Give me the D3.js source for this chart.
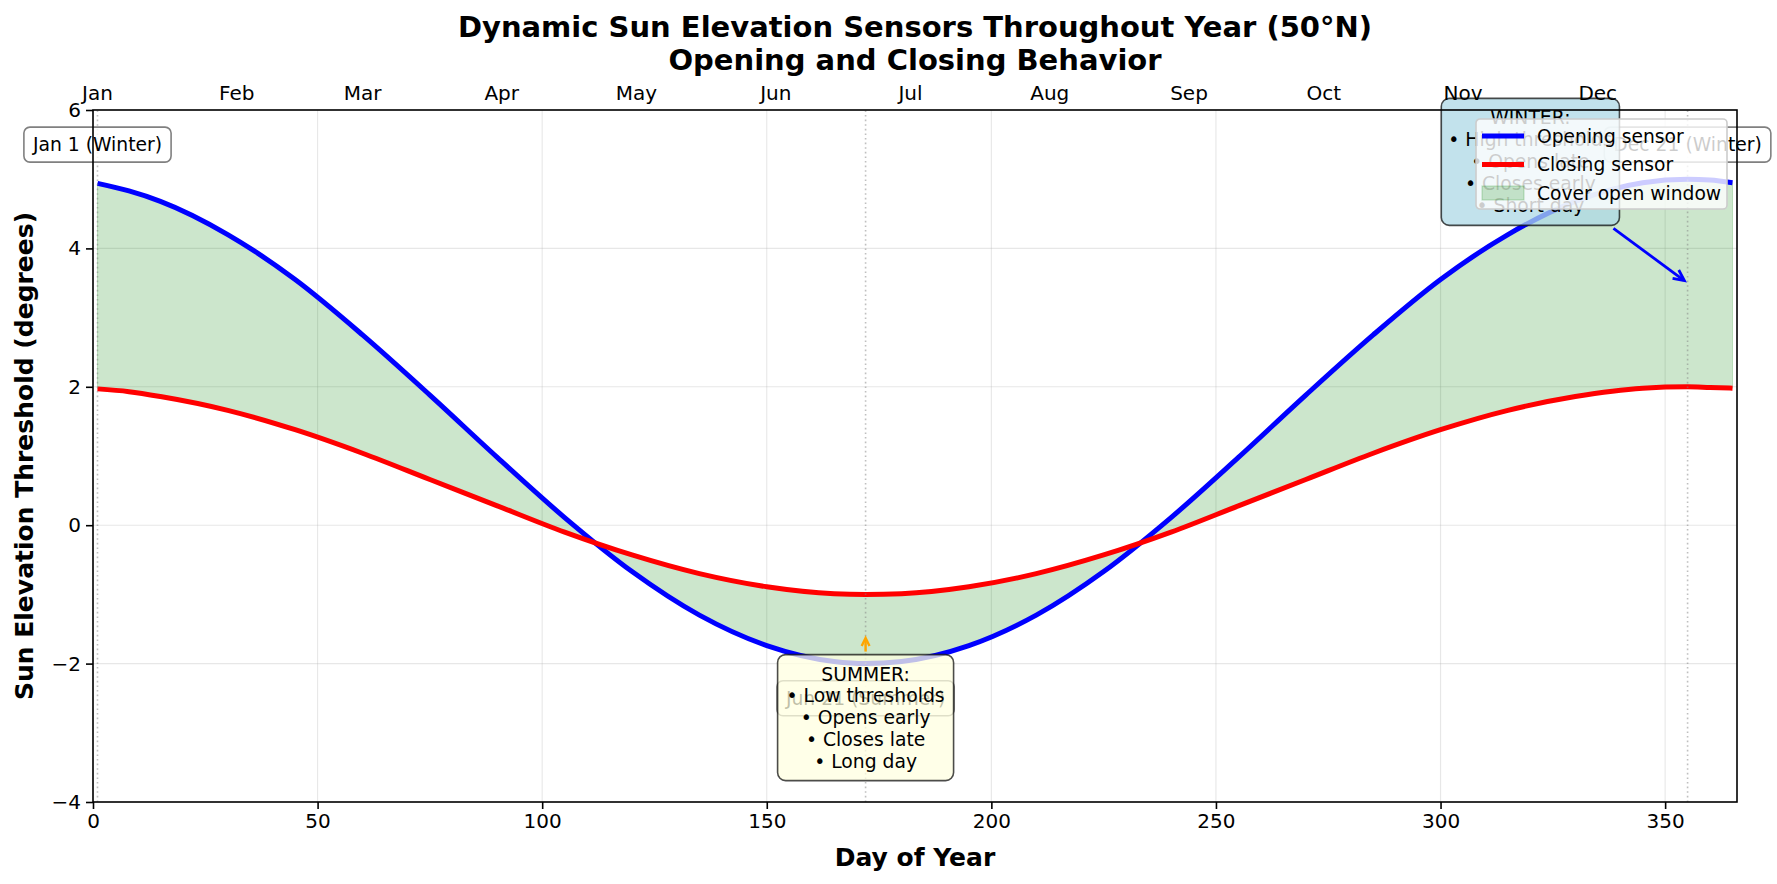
<!DOCTYPE html>
<html>
<head>
<meta charset="utf-8">
<script src="https://cdn.jsdelivr.net/npm/d3@7"></script>
<style>
  body { margin: 0; background: #fff; }
  svg { display: block; font-family: "DejaVu Sans", sans-serif; }
</style>
</head>
<body>
<div id="chartDiv"></div>
<script>
// values
const days = [1, 8, 15, 30, 45, 60, 75, 90, 105, 120, 135, 150, 165, 172, 180, 195, 210, 225, 240, 255, 270, 285, 300, 315, 330, 345, 355, 360, 365];
const openingSensor = [4.94, 4.83, 4.68, 4.20, 3.55, 2.75, 1.88, 0.98, 0.11, -0.67, -1.30, -1.74, -1.97, -2.00, -1.97, -1.74, -1.30, -0.67, 0.11, 0.98, 1.88, 2.75, 3.55, 4.20, 4.68, 4.95, 5.00, 4.99, 4.95];
const closingSensor = [1.97, 1.93, 1.86, 1.66, 1.38, 1.04, 0.66, 0.28, -0.10, -0.43, -0.70, -0.89, -0.99, -1.00, -0.99, -0.89, -0.70, -0.43, -0.10, 0.28, 0.66, 1.04, 1.38, 1.66, 1.86, 1.98, 2.00, 1.99, 1.98];

const monthNames = ['Jan', 'Feb', 'Mar', 'Apr', 'May', 'Jun', 'Jul', 'Aug', 'Sep', 'Oct', 'Nov', 'Dec'];
const monthStartDays = [1, 32, 60, 91, 121, 152, 182, 213, 244, 274, 305, 335];

const xTicks = [0, 50, 100, 150, 200, 250, 300, 350];
const yTicks = [-4, -2, 0, 2, 4, 6];

const keyDays = [1, 172, 355];
const keyLabels = ['Jan 1 (Winter)', 'Jun 21 (Summer)', 'Dec 21 (Winter)'];
const keyLabelY = [5.5, -2.5, 5.5];

const summerLines = ['SUMMER:', '• Low thresholds', '• Opens early', '• Closes late', '• Long day'];
const winterLines = ['WINTER:', '• High thresholds', '• Opens late', '• Closes early', '• Short day'];

const legendNames = ['Opening sensor', 'Closing sensor', 'Cover open window'];

const width = 1777, height = 884;
const margin = { top: 110, right: 40, bottom: 82, left: 93 };

const series = days.map((d, i) => ({ day: d, open: openingSensor[i], close: closingSensor[i] }));

const svg = d3.select('#chartDiv').append('svg')
	.attr('width', width)
	.attr('height', height);

const x = d3.scaleLinear().domain([0, 366]).range([margin.left, width - margin.right]);
const y = d3.scaleLinear().domain([-4, 6]).range([height - margin.bottom, margin.top]);

// grid
const grid = svg.append('g').attr('class', 'grid');
grid.selectAll('.vgrid').data(xTicks).join('line')
	.attr('x1', d => x(d)).attr('x2', d => x(d))
	.attr('y1', y(-4)).attr('y2', y(6))
	.attr('stroke', '#b0b0b0').attr('stroke-opacity', 0.3).attr('stroke-width', 1.1);
grid.selectAll('.hgrid').data(yTicks).join('line')
	.attr('x1', x(0)).attr('x2', x(366))
	.attr('y1', d => y(d)).attr('y2', d => y(d))
	.attr('stroke', '#b0b0b0').attr('stroke-opacity', 0.3).attr('stroke-width', 1.1);

// filled band between the sensors
const areaFn = d3.area()
	.x(d => x(d.day))
	.y0(d => y(d.close))
	.y1(d => y(d.open))
	.curve(d3.curveMonotoneX);

svg.append('path')
	.datum(series)
	.attr('d', areaFn)
	.attr('fill', 'green').attr('fill-opacity', 0.2)
	.attr('stroke', 'green').attr('stroke-opacity', 0.2).attr('stroke-width', 1);

const openLine = d3.line().x(d => x(d.day)).y(d => y(d.open)).curve(d3.curveMonotoneX);
const closeLine = d3.line().x(d => x(d.day)).y(d => y(d.close)).curve(d3.curveMonotoneX);

svg.append('path').datum(series).attr('d', openLine)
	.attr('fill', 'none').attr('stroke', 'blue').attr('stroke-width', 5);
svg.append('path').datum(series).attr('d', closeLine)
	.attr('fill', 'none').attr('stroke', 'red').attr('stroke-width', 5);

// key day markers
svg.selectAll('.keyLine').data(keyDays).join('line')
	.attr('x1', d => x(d)).attr('x2', d => x(d))
	.attr('y1', y(-4)).attr('y2', y(6))
	.attr('stroke', 'gray').attr('stroke-opacity', 0.5)
	.attr('stroke-width', 1.6).attr('stroke-dasharray', '1.6,3');

// boxed text helper
function boxedText(parent, lines, cx, cy, opts){
	let g = parent.append('g');
	let rect = g.append('rect');
	let lineH = opts.lineH;
	let txt = g.append('text')
		.attr('font-size', opts.size)
		.attr('text-anchor', 'middle')
		.attr('fill', '#000');
	lines.forEach((l, i) => {
		txt.append('tspan')
			.attr('x', cx)
			.attr('y', cy + (i - (lines.length - 1) / 2) * lineH)
			.attr('dy', '0.35em')
			.text(l);
	});
	let maxW = d3.max(txt.selectAll('tspan').nodes(), n => n.getComputedTextLength());
	let h = lines.length * lineH;
	let box = {
		x: cx - maxW / 2 - opts.padX,
		y: cy - h / 2 - opts.padY,
		w: maxW + 2 * opts.padX,
		h: h + 2 * opts.padY
	};
	rect.attr('x', box.x).attr('y', box.y)
		.attr('width', box.w).attr('height', box.h)
		.attr('rx', opts.rx).attr('ry', opts.rx)
		.attr('fill', opts.fill).attr('fill-opacity', opts.fillOpacity)
		.attr('stroke', opts.stroke).attr('stroke-width', opts.strokeWidth)
		.attr('stroke-opacity', opts.strokeOpacity || 1);
	return box;
}

function drawArrow(parent, x1, y1, x2, y2, color, lw, head, shrink){
	let ang = Math.atan2(y2 - y1, x2 - x1);
	x2 -= Math.cos(ang) * shrink;
	y2 -= Math.sin(ang) * shrink;
	parent.append('line')
		.attr('x1', x1).attr('y1', y1)
		.attr('x2', x2 - Math.cos(ang) * 1).attr('y2', y2 - Math.sin(ang) * 1)
		.attr('stroke', color).attr('stroke-width', lw);
	let a1 = ang + Math.PI - 0.45, a2 = ang + Math.PI + 0.45;
	parent.append('path')
		.attr('d', `M${x2 + Math.cos(a1) * head},${y2 + Math.sin(a1) * head}L${x2},${y2}L${x2 + Math.cos(a2) * head},${y2 + Math.sin(a2) * head}`)
		.attr('fill', 'none').attr('stroke', color).attr('stroke-width', lw)
		.attr('stroke-linejoin', 'miter');
}

// key day labels
keyDays.forEach((d, i) => {
	boxedText(svg, [keyLabels[i]], x(d), y(keyLabelY[i]), {
		size: 18.75, lineH: 20, padX: 9, padY: 7.5, rx: 6,
		fill: 'white', fillOpacity: 0.8, stroke: 'gray', strokeWidth: 1.6
	});
});

// summer annotation
let summerBox = boxedText(svg, summerLines, x(172), y(-2.78), {
	size: 18.75, lineH: 21.8, padX: 9, padY: 8.5, rx: 8,
	fill: '#ffffe0', fillOpacity: 0.75, stroke: '#000', strokeWidth: 1.6, strokeOpacity: 0.7
});
drawArrow(svg, x(172), summerBox.y - 3, x(172), y(-1.6), 'orange', 2.4, 9, 2);

// winter annotation
let winterBox = boxedText(svg, winterLines, x(320), y(5.25), {
	size: 18.75, lineH: 22, padX: 7, padY: 8.5, rx: 8,
	fill: 'lightblue', fillOpacity: 0.75, stroke: '#000', strokeWidth: 1.6, strokeOpacity: 0.7
});
drawArrow(svg, winterBox.x + winterBox.w - 6, winterBox.y + winterBox.h + 3, x(355), y(3.5), 'blue', 2.8, 12, 4);

// axes
const xAxis = svg.append('g')
	.attr('transform', `translate(0,${y(-4)})`)
	.call(d3.axisBottom(x).tickValues(xTicks).tickSize(7).tickPadding(5));
const yAxis = svg.append('g')
	.attr('transform', `translate(${x(0)},0)`)
	.call(d3.axisLeft(y).tickValues(yTicks).tickSize(7).tickPadding(5));
[xAxis, yAxis].forEach(a => {
	a.select('.domain').remove();
	a.selectAll('.tick line').attr('stroke', '#000').attr('stroke-width', 1.6);
	a.selectAll('.tick text').attr('font-size', 20).attr('fill', '#000')
		.attr('font-family', '"DejaVu Sans", sans-serif');
});

// top month labels
svg.append('g').selectAll('text').data(monthStartDays).join('text')
	.attr('x', d => x(d))
	.attr('y', 93)
	.attr('dy', '0.35em')
	.attr('text-anchor', 'middle')
	.attr('font-size', 20)
	.text((d, i) => monthNames[i]);

// spines
svg.append('rect')
	.attr('x', x(0)).attr('y', y(6))
	.attr('width', x(366) - x(0)).attr('height', y(-4) - y(6))
	.attr('fill', 'none').attr('stroke', '#000').attr('stroke-width', 1.6);

// legend
const legend = svg.append('g').attr('transform', 'translate(1476,119)');
legend.append('rect')
	.attr('width', 251).attr('height', 90).attr('rx', 4)
	.attr('fill', 'white').attr('fill-opacity', 0.8)
	.attr('stroke', '#cccccc').attr('stroke-width', 1.6);
legendNames.forEach((name, i) => {
	let ly = 17 + i * 28.5;
	if(i < 2){
		legend.append('line')
			.attr('x1', 6).attr('x2', 48).attr('y1', ly).attr('y2', ly)
			.attr('stroke', i == 0 ? 'blue' : 'red').attr('stroke-width', 5);
	} else {
		legend.append('rect')
			.attr('x', 6).attr('y', ly - 7).attr('width', 42).attr('height', 14)
			.attr('fill', 'green').attr('fill-opacity', 0.2)
			.attr('stroke', 'green').attr('stroke-opacity', 0.2).attr('stroke-width', 1.2);
	}
	legend.append('text')
		.attr('x', 61).attr('y', ly).attr('dy', '0.35em')
		.attr('font-size', 18.7)
		.text(name);
});

// titles
svg.append('text')
	.attr('x', (x(0) + x(366)) / 2).attr('y', 27).attr('dy', '0.35em')
	.attr('text-anchor', 'middle').attr('font-size', 29).attr('font-weight', 'bold')
	.text('Dynamic Sun Elevation Sensors Throughout Year (50°N)');
svg.append('text')
	.attr('x', (x(0) + x(366)) / 2).attr('y', 60).attr('dy', '0.35em')
	.attr('text-anchor', 'middle').attr('font-size', 29).attr('font-weight', 'bold')
	.text('Opening and Closing Behavior');

svg.append('text')
	.attr('x', (x(0) + x(366)) / 2).attr('y', 857).attr('dy', '0.35em')
	.attr('text-anchor', 'middle').attr('font-size', 25).attr('font-weight', 'bold')
	.text('Day of Year');

svg.append('text')
	.attr('transform', `translate(24,${(y(6) + y(-4)) / 2}) rotate(-90)`)
	.attr('dy', '0.35em')
	.attr('text-anchor', 'middle').attr('font-size', 25).attr('font-weight', 'bold')
	.text('Sun Elevation Threshold (degrees)');
</script>
</body>
</html>
